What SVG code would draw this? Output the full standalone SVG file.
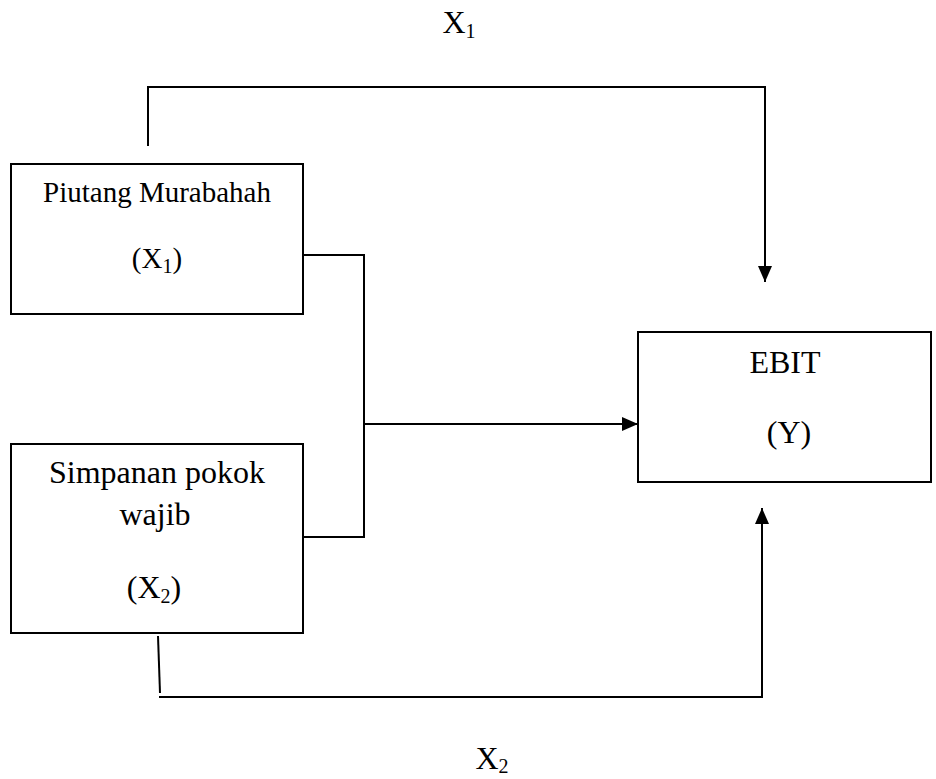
<svg xmlns="http://www.w3.org/2000/svg" width="936" height="779" viewBox="0 0 936 779">
  <style>
    .box { fill: #fff; stroke: #000; stroke-width: 2; }
    .t { font-family: "Liberation Serif", "Times New Roman", serif; font-size: 32px; fill: #000; text-anchor: middle; }
    .s29 { font-size: 29px; }
    .sub { font-size: 20px; }
    .line { fill: none; stroke: #000; stroke-width: 2; }
  </style>
  <defs>
    <marker id="arrow" viewBox="0 0 16 14" refX="16" refY="7" markerWidth="16" markerHeight="14" markerUnits="userSpaceOnUse" orient="auto">
      <path d="M0,0 L16,7 L0,14 Z" fill="#000"/>
    </marker>
  </defs>
  <rect width="936" height="779" fill="#fff"/>
  <g id="connectors">
    <path class="line" d="M148,146 V87 H765 V282" marker-end="url(#arrow)"/>
    <path class="line" d="M303,255 H364 V537 H303"/>
    <path class="line" d="M364,424 H638" marker-end="url(#arrow)"/>
    <path class="line" d="M158,636 L160,693"/>
    <path class="line" d="M159,697 H762 V508" marker-end="url(#arrow)"/>
  </g>
  <g id="label-x1">
    <text class="t" x="459" y="33">X<tspan class="sub" dy="5">1</tspan></text>
  </g>
  <g id="label-x2">
    <text class="t" x="492" y="769">X<tspan class="sub" dy="4">2</tspan></text>
  </g>
  <g id="node-x1">
    <rect class="box" x="11" y="164" width="292" height="150"/>
    <text class="t s29" x="157" y="202">Piutang Murabahah</text>
    <text class="t s29" x="157" y="268">(X<tspan class="sub" dy="5">1</tspan><tspan dy="-5">)</tspan></text>
  </g>
  <g id="node-x2">
    <rect class="box" x="11" y="444" width="292" height="189"/>
    <text class="t" x="157" y="483">Simpanan pokok</text>
    <text class="t" x="155" y="525">wajib</text>
    <text class="t" x="154" y="598">(X<tspan class="sub" dy="5">2</tspan><tspan dy="-5">)</tspan></text>
  </g>
  <g id="node-y">
    <rect class="box" x="638" y="332" width="293" height="150"/>
    <text class="t" x="785" y="373">EBIT</text>
    <text class="t" x="789" y="443">(Y)</text>
  </g>
</svg>
